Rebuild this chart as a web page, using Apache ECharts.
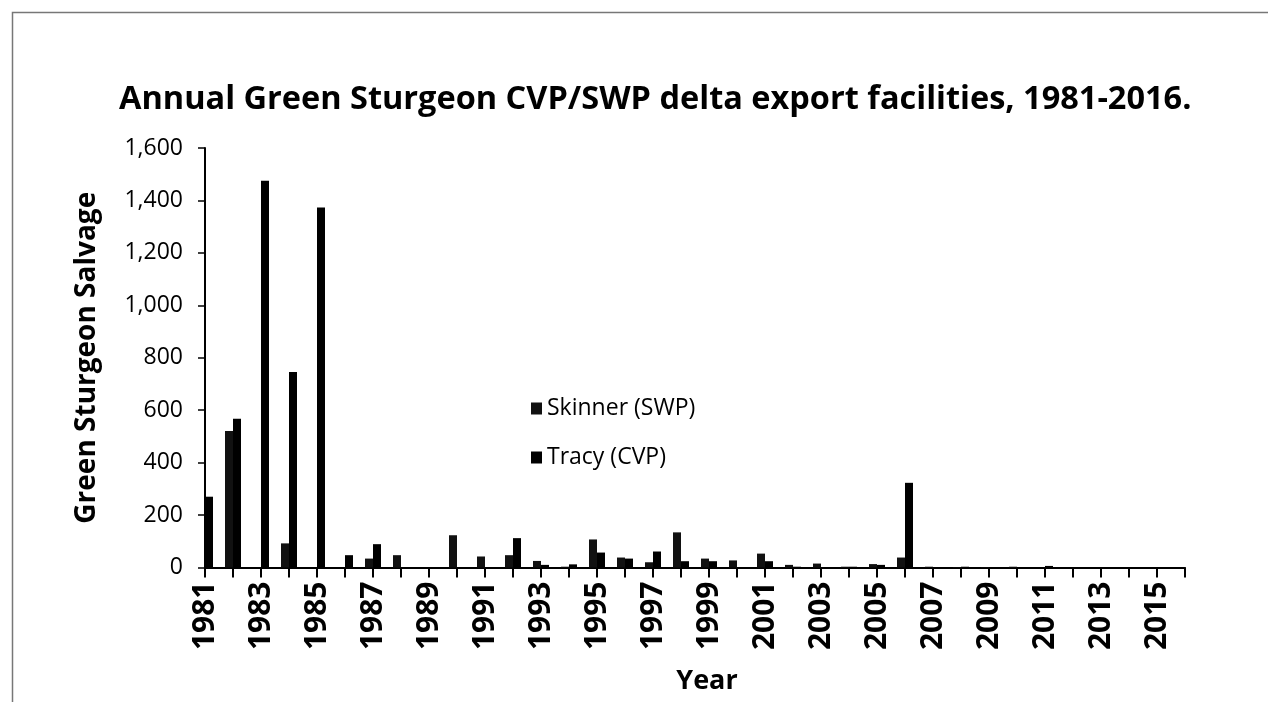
<!DOCTYPE html>
<html>
<head>
<meta charset="utf-8">
<script src="https://cdn.jsdelivr.net/npm/echarts@6/dist/echarts.min.js"></script>
<style>
html,body{margin:0;padding:0;background:#fff;}
#chart{width:1268px;height:702px;}
</style>
</head>
<body>
<div id="chart"></div>
<script>
const years = ['1981','1982','1983','1984','1985','1986','1987','1988','1989','1990','1991','1992','1993','1994','1995','1996','1997','1998','1999','2000','2001','2002','2003','2004','2005','2006','2007','2008','2009','2010','2011','2012','2013','2014','2015','2016'];
const skinner = [0,521,0,92,0,0,34,47,0,123,42,47,25,3,107,38,20,134,34,27,53,10,15,3,13,38,3,2,2,3,0,0,0,0,0,0];
const tracy = [270,567,1475,746,1373,47,89,0,0,0,0,112,10,12,57,34,61,24,24,0,24,3,2,3,10,323,2,3,2,2,6,0,0,0,0,0];
const yTicks = [0,200,400,600,800,1000,1200,1400,1600];

const chart = echarts.init(document.getElementById('chart'));
const FONT = '"Open Sans", sans-serif';
chart.setOption({
  backgroundColor: '#fff',
  animation: false,
  graphic: [{
    type: 'rect', left: 10, top: 10,
    shape: {width: 1257, height: 700},
    style: {fill: 'none', stroke: '#777', lineWidth: 1.5}
  }],
  title: {
    text: 'Annual Green Sturgeon CVP/SWP delta export facilities, 1981-2016.',
    left: 114, top: 78,
    textStyle: {fontFamily: FONT, fontWeight: 'bold', fontSize: 32.5, color: '#000'}
  },
  legend: {
    orient: 'vertical', left: 526, top: 392,
    itemWidth: 11, itemHeight: 12, itemGap: 26,
    icon: 'rect',
    textStyle: {fontFamily: FONT, fontSize: 23, color: '#000'},
    data: ['Skinner (SWP)', 'Tracy (CVP)']
  },
  grid: {left: 205, right: 83, top: 148, bottom: 134.5, containLabel: false},
  xAxis: {
    type: 'category', data: years, boundaryGap: false,
    name: 'Year', nameLocation: 'middle', nameGap: 100,
    nameTextStyle: {fontFamily: FONT, fontWeight: 'bold', fontSize: 27, color: '#000', padding: [0,0,0,24]},
    axisLine: {lineStyle: {color: '#000', width: 2}},
    axisTick: {interval: 0, length: 10, lineStyle: {color: '#000', width: 2}},
    axisLabel: {interval: 1, rotate: 90, margin: 14, fontFamily: FONT, fontWeight: 'bold', fontSize: 30, color: '#000'}
  },
  yAxis: {
    type: 'value', min: yTicks[0], max: yTicks[yTicks.length-1], interval: 200,
    name: 'Green Sturgeon Salvage', nameLocation: 'middle', nameGap: 104,
    nameTextStyle: {fontFamily: FONT, fontWeight: 'bold', fontSize: 28, color: '#000'},
    axisLine: {show: true, lineStyle: {color: '#000', width: 2}},
    axisTick: {show: true, length: 7, lineStyle: {color: '#000', width: 1.5}},
    splitLine: {show: false},
    axisLabel: {margin: 22, fontFamily: FONT, fontSize: 23, color: '#000',
      formatter: v => v.toLocaleString('en-US')}
  },
  series: [
    {name: 'Skinner (SWP)', type: 'bar', data: skinner, barWidth: 8, barGap: '0%', itemStyle: {color: '#111'}},
    {name: 'Tracy (CVP)', type: 'bar', data: tracy, barWidth: 8, barGap: '0%', itemStyle: {color: '#000'}}
  ]
});
</script>
</body>
</html>
